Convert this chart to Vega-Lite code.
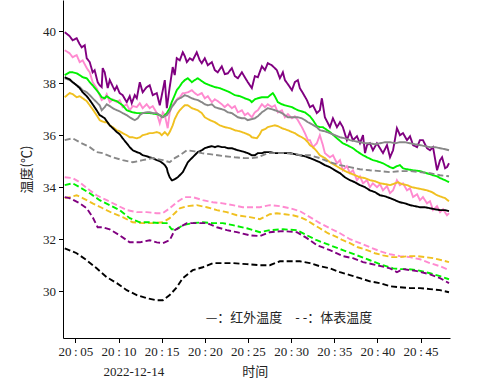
{
"$schema": "https://vega.github.io/schema/vega-lite/v6.json",
"width": 387, "height": 338,
"autosize": "none",
"padding": {"left": 63, "top": 0, "right": 50, "bottom": 42},
"config": {"view": {"stroke": null}, "font": "Liberation Serif"},
"layer": [
{
"data": {"values": [
{"c":"P","k":"I","t":"20:03:46","v":39.96},{"c":"P","k":"I","t":"20:04:20","v":39.81},{"c":"P","k":"I","t":"20:04:41","v":39.65},{"c":"P","k":"I","t":"20:05:09","v":39.73},{"c":"P","k":"I","t":"20:05:30","v":39.5},{"c":"P","k":"I","t":"20:05:44","v":39.38},{"c":"P","k":"I","t":"20:06:05","v":39.46},{"c":"P","k":"I","t":"20:06:19","v":38.96},{"c":"P","k":"I","t":"20:06:40","v":38.81},{"c":"P","k":"I","t":"20:07:00","v":38.42},{"c":"P","k":"I","t":"20:07:14","v":38.5},{"c":"P","k":"I","t":"20:07:35","v":38.04},{"c":"P","k":"I","t":"20:07:49","v":37.92},{"c":"P","k":"I","t":"20:08:03","v":37.85},{"c":"P","k":"I","t":"20:08:10","v":38.58},{"c":"P","k":"I","t":"20:08:24","v":38.42},{"c":"P","k":"I","t":"20:08:45","v":37.81},{"c":"P","k":"I","t":"20:08:59","v":38.12},{"c":"P","k":"I","t":"20:09:20","v":37.88},{"c":"P","k":"I","t":"20:09:34","v":37.73},{"c":"P","k":"I","t":"20:09:48","v":37.88},{"c":"P","k":"I","t":"20:10:08","v":37.62},{"c":"P","k":"I","t":"20:10:29","v":37.54},{"c":"P","k":"I","t":"20:10:57","v":37.27},{"c":"P","k":"I","t":"20:11:18","v":37.5},{"c":"P","k":"I","t":"20:11:32","v":37.23},{"c":"P","k":"I","t":"20:11:53","v":37.54},{"c":"P","k":"I","t":"20:12:07","v":37.42},{"c":"P","k":"I","t":"20:12:28","v":38.04},{"c":"P","k":"I","t":"20:12:48","v":37.65},{"c":"P","k":"I","t":"20:13:16","v":37.85},{"c":"P","k":"I","t":"20:13:37","v":37.92},{"c":"P","k":"I","t":"20:13:58","v":37.54},{"c":"P","k":"I","t":"20:14:26","v":37.62},{"c":"P","k":"I","t":"20:14:47","v":37.15},{"c":"P","k":"I","t":"20:15:08","v":37.73},{"c":"P","k":"I","t":"20:15:22","v":38.12},{"c":"P","k":"I","t":"20:15:36","v":37.04},{"c":"P","k":"I","t":"20:15:56","v":37.85},{"c":"P","k":"I","t":"20:16:17","v":38.62},{"c":"P","k":"I","t":"20:16:31","v":38.31},{"c":"P","k":"I","t":"20:16:45","v":38.96},{"c":"P","k":"I","t":"20:17:06","v":38.88},{"c":"P","k":"I","t":"20:17:27","v":39.19},{"c":"P","k":"I","t":"20:17:41","v":39.04},{"c":"P","k":"I","t":"20:17:55","v":38.81},{"c":"P","k":"I","t":"20:18:16","v":38.96},{"c":"P","k":"I","t":"20:18:36","v":38.88},{"c":"P","k":"I","t":"20:19:04","v":39.19},{"c":"P","k":"I","t":"20:19:25","v":38.88},{"c":"P","k":"I","t":"20:19:39","v":38.77},{"c":"P","k":"I","t":"20:20:00","v":38.96},{"c":"P","k":"I","t":"20:20:21","v":38.69},{"c":"P","k":"I","t":"20:20:49","v":38.81},{"c":"P","k":"I","t":"20:21:10","v":38.5},{"c":"P","k":"I","t":"20:21:30","v":38.42},{"c":"P","k":"I","t":"20:21:58","v":38.65},{"c":"P","k":"I","t":"20:22:19","v":38.35},{"c":"P","k":"I","t":"20:22:40","v":38.38},{"c":"P","k":"I","t":"20:23:08","v":38.58},{"c":"P","k":"I","t":"20:23:29","v":38.27},{"c":"P","k":"I","t":"20:23:50","v":38.19},{"c":"P","k":"I","t":"20:24:18","v":38.42},{"c":"P","k":"I","t":"20:24:38","v":38.23},{"c":"P","k":"I","t":"20:24:59","v":38.04},{"c":"P","k":"I","t":"20:25:27","v":37.81},{"c":"P","k":"I","t":"20:25:48","v":38.27},{"c":"P","k":"I","t":"20:26:09","v":38.23},{"c":"P","k":"I","t":"20:26:37","v":38.65},{"c":"P","k":"I","t":"20:26:58","v":38.5},{"c":"P","k":"I","t":"20:27:18","v":38.77},{"c":"P","k":"I","t":"20:27:46","v":38.69},{"c":"P","k":"I","t":"20:28:07","v":38.58},{"c":"P","k":"I","t":"20:28:21","v":38.5},{"c":"P","k":"I","t":"20:28:42","v":38.19},{"c":"P","k":"I","t":"20:29:03","v":38.42},{"c":"P","k":"I","t":"20:29:17","v":38.12},{"c":"P","k":"I","t":"20:29:38","v":37.96},{"c":"P","k":"I","t":"20:30:06","v":37.73},{"c":"P","k":"I","t":"20:30:26","v":38.04},{"c":"P","k":"I","t":"20:30:47","v":38.12},{"c":"P","k":"I","t":"20:31:01","v":37.81},{"c":"P","k":"I","t":"20:31:22","v":37.62},{"c":"P","k":"I","t":"20:31:50","v":37.35},{"c":"P","k":"I","t":"20:32:11","v":37.08},{"c":"P","k":"I","t":"20:32:32","v":37.15},{"c":"P","k":"I","t":"20:32:59","v":36.85},{"c":"P","k":"I","t":"20:33:20","v":36.96},{"c":"P","k":"I","t":"20:33:34","v":37.42},{"c":"P","k":"I","t":"20:33:55","v":36.69},{"c":"P","k":"I","t":"20:34:30","v":36.31},{"c":"P","k":"I","t":"20:34:51","v":36.65},{"c":"P","k":"I","t":"20:35:19","v":36.31},{"c":"P","k":"I","t":"20:35:40","v":36.5},{"c":"P","k":"I","t":"20:36:00","v":36.31},{"c":"P","k":"I","t":"20:36:28","v":35.81},{"c":"P","k":"I","t":"20:36:49","v":36.12},{"c":"P","k":"I","t":"20:37:10","v":35.81},{"c":"P","k":"I","t":"20:37:38","v":35.96},{"c":"P","k":"I","t":"20:37:59","v":35.69},{"c":"P","k":"I","t":"20:38:20","v":36.0},{"c":"P","k":"I","t":"20:38:34","v":35.31},{"c":"P","k":"I","t":"20:38:48","v":35.62},{"c":"P","k":"I","t":"20:39:08","v":35.69},{"c":"P","k":"I","t":"20:39:29","v":35.42},{"c":"P","k":"I","t":"20:39:57","v":35.69},{"c":"P","k":"I","t":"20:40:18","v":35.5},{"c":"P","k":"I","t":"20:40:39","v":35.31},{"c":"P","k":"I","t":"20:41:07","v":35.62},{"c":"P","k":"I","t":"20:41:28","v":35.15},{"c":"P","k":"I","t":"20:41:49","v":35.42},{"c":"P","k":"I","t":"20:42:16","v":36.27},{"c":"P","k":"I","t":"20:42:37","v":36.0},{"c":"P","k":"I","t":"20:42:58","v":36.08},{"c":"P","k":"I","t":"20:43:26","v":35.81},{"c":"P","k":"I","t":"20:43:47","v":35.96},{"c":"P","k":"I","t":"20:44:08","v":35.62},{"c":"P","k":"I","t":"20:44:36","v":35.54},{"c":"P","k":"I","t":"20:44:56","v":35.81},{"c":"P","k":"I","t":"20:45:17","v":35.81},{"c":"P","k":"I","t":"20:45:45","v":35.5},{"c":"P","k":"I","t":"20:46:06","v":35.42},{"c":"P","k":"I","t":"20:46:27","v":35.54},{"c":"P","k":"I","t":"20:46:55","v":34.65},{"c":"P","k":"I","t":"20:47:16","v":35.04},{"c":"P","k":"I","t":"20:47:30","v":35.15},{"c":"P","k":"I","t":"20:47:51","v":34.73},{"c":"P","k":"I","t":"20:48:04","v":34.77},{"c":"P","k":"I","t":"20:48:18","v":34.92},
{"c":"K","k":"I","t":"20:03:46","v":39.27},{"c":"K","k":"I","t":"20:04:20","v":39.15},{"c":"K","k":"I","t":"20:04:41","v":39.0},{"c":"K","k":"I","t":"20:05:09","v":39.08},{"c":"K","k":"I","t":"20:05:30","v":38.81},{"c":"K","k":"I","t":"20:05:51","v":38.88},{"c":"K","k":"I","t":"20:06:19","v":38.58},{"c":"K","k":"I","t":"20:06:40","v":38.42},{"c":"K","k":"I","t":"20:07:00","v":38.04},{"c":"K","k":"I","t":"20:07:28","v":37.81},{"c":"K","k":"I","t":"20:07:49","v":37.54},{"c":"K","k":"I","t":"20:08:03","v":37.35},{"c":"K","k":"I","t":"20:08:24","v":37.42},{"c":"K","k":"I","t":"20:08:38","v":37.58},{"c":"K","k":"I","t":"20:08:59","v":37.27},{"c":"K","k":"I","t":"20:09:20","v":37.38},{"c":"K","k":"I","t":"20:09:48","v":37.27},{"c":"K","k":"I","t":"20:10:08","v":37.35},{"c":"K","k":"I","t":"20:10:29","v":37.08},{"c":"K","k":"I","t":"20:10:57","v":37.19},{"c":"K","k":"I","t":"20:11:18","v":36.96},{"c":"K","k":"I","t":"20:11:39","v":37.12},{"c":"K","k":"I","t":"20:12:07","v":37.08},{"c":"K","k":"I","t":"20:12:28","v":37.23},{"c":"K","k":"I","t":"20:12:48","v":37.04},{"c":"K","k":"I","t":"20:13:16","v":37.19},{"c":"K","k":"I","t":"20:13:37","v":37.04},{"c":"K","k":"I","t":"20:13:58","v":37.12},{"c":"K","k":"I","t":"20:14:26","v":36.85},{"c":"K","k":"I","t":"20:14:47","v":36.46},{"c":"K","k":"I","t":"20:15:08","v":36.88},{"c":"K","k":"I","t":"20:15:22","v":36.77},{"c":"K","k":"I","t":"20:15:42","v":36.27},{"c":"K","k":"I","t":"20:15:56","v":36.88},{"c":"K","k":"I","t":"20:16:10","v":37.12},{"c":"K","k":"I","t":"20:16:31","v":37.27},{"c":"K","k":"I","t":"20:16:52","v":37.42},{"c":"K","k":"I","t":"20:17:06","v":37.46},{"c":"K","k":"I","t":"20:17:27","v":37.62},{"c":"K","k":"I","t":"20:17:41","v":37.62},{"c":"K","k":"I","t":"20:18:02","v":37.65},{"c":"K","k":"I","t":"20:18:30","v":37.73},{"c":"K","k":"I","t":"20:18:50","v":37.62},{"c":"K","k":"I","t":"20:19:11","v":37.54},{"c":"K","k":"I","t":"20:19:39","v":37.62},{"c":"K","k":"I","t":"20:20:00","v":37.42},{"c":"K","k":"I","t":"20:20:21","v":37.5},{"c":"K","k":"I","t":"20:20:49","v":37.27},{"c":"K","k":"I","t":"20:21:10","v":37.38},{"c":"K","k":"I","t":"20:21:30","v":37.31},{"c":"K","k":"I","t":"20:21:58","v":37.19},{"c":"K","k":"I","t":"20:22:19","v":37.08},{"c":"K","k":"I","t":"20:22:40","v":37.19},{"c":"K","k":"I","t":"20:23:08","v":37.04},{"c":"K","k":"I","t":"20:23:29","v":37.12},{"c":"K","k":"I","t":"20:23:50","v":36.88},{"c":"K","k":"I","t":"20:24:18","v":36.96},{"c":"K","k":"I","t":"20:24:38","v":36.77},{"c":"K","k":"I","t":"20:24:59","v":36.85},{"c":"K","k":"I","t":"20:25:27","v":36.69},{"c":"K","k":"I","t":"20:25:48","v":36.88},{"c":"K","k":"I","t":"20:26:09","v":36.96},{"c":"K","k":"I","t":"20:26:37","v":37.19},{"c":"K","k":"I","t":"20:26:58","v":37.08},{"c":"K","k":"I","t":"20:27:18","v":37.19},{"c":"K","k":"I","t":"20:27:46","v":37.08},{"c":"K","k":"I","t":"20:28:07","v":37.15},{"c":"K","k":"I","t":"20:28:28","v":36.88},{"c":"K","k":"I","t":"20:28:56","v":36.96},{"c":"K","k":"I","t":"20:29:17","v":36.69},{"c":"K","k":"I","t":"20:29:38","v":36.81},{"c":"K","k":"I","t":"20:30:06","v":36.65},{"c":"K","k":"I","t":"20:30:26","v":36.73},{"c":"K","k":"I","t":"20:30:47","v":36.58},{"c":"K","k":"I","t":"20:31:15","v":36.31},{"c":"K","k":"I","t":"20:31:36","v":36.08},{"c":"K","k":"I","t":"20:31:57","v":35.81},{"c":"K","k":"I","t":"20:32:11","v":35.81},{"c":"K","k":"I","t":"20:32:32","v":35.54},{"c":"K","k":"I","t":"20:32:59","v":35.69},{"c":"K","k":"I","t":"20:33:20","v":36.0},{"c":"K","k":"I","t":"20:33:41","v":35.62},{"c":"K","k":"I","t":"20:33:55","v":35.31},{"c":"K","k":"I","t":"20:34:30","v":35.15},{"c":"K","k":"I","t":"20:34:51","v":35.23},{"c":"K","k":"I","t":"20:35:19","v":34.92},{"c":"K","k":"I","t":"20:35:40","v":35.04},{"c":"K","k":"I","t":"20:36:00","v":34.65},{"c":"K","k":"I","t":"20:36:28","v":34.81},{"c":"K","k":"I","t":"20:36:49","v":34.54},{"c":"K","k":"I","t":"20:37:10","v":34.65},{"c":"K","k":"I","t":"20:37:38","v":34.27},{"c":"K","k":"I","t":"20:37:59","v":34.42},{"c":"K","k":"I","t":"20:38:20","v":34.15},{"c":"K","k":"I","t":"20:38:48","v":34.27},{"c":"K","k":"I","t":"20:39:08","v":34.0},{"c":"K","k":"I","t":"20:39:29","v":34.15},{"c":"K","k":"I","t":"20:39:57","v":34.0},{"c":"K","k":"I","t":"20:40:18","v":34.12},{"c":"K","k":"I","t":"20:40:39","v":33.88},{"c":"K","k":"I","t":"20:41:07","v":34.04},{"c":"K","k":"I","t":"20:41:28","v":33.77},{"c":"K","k":"I","t":"20:41:49","v":33.88},{"c":"K","k":"I","t":"20:42:16","v":34.27},{"c":"K","k":"I","t":"20:42:37","v":34.08},{"c":"K","k":"I","t":"20:42:58","v":34.15},{"c":"K","k":"I","t":"20:43:26","v":33.88},{"c":"K","k":"I","t":"20:43:47","v":33.96},{"c":"K","k":"I","t":"20:44:08","v":33.62},{"c":"K","k":"I","t":"20:44:36","v":33.73},{"c":"K","k":"I","t":"20:44:56","v":33.5},{"c":"K","k":"I","t":"20:45:17","v":33.62},{"c":"K","k":"I","t":"20:45:45","v":33.38},{"c":"K","k":"I","t":"20:46:06","v":33.46},{"c":"K","k":"I","t":"20:46:27","v":33.12},{"c":"K","k":"I","t":"20:46:55","v":33.27},{"c":"K","k":"I","t":"20:47:16","v":33.04},{"c":"K","k":"I","t":"20:47:37","v":33.15},{"c":"K","k":"I","t":"20:48:04","v":32.92},{"c":"K","k":"I","t":"20:48:18","v":33.0},
{"c":"G","k":"I","t":"20:03:46","v":38.31},{"c":"G","k":"I","t":"20:04:20","v":38.42},{"c":"G","k":"I","t":"20:04:41","v":38.42},{"c":"G","k":"I","t":"20:05:09","v":38.38},{"c":"G","k":"I","t":"20:05:30","v":38.31},{"c":"G","k":"I","t":"20:05:51","v":38.23},{"c":"G","k":"I","t":"20:06:19","v":38.19},{"c":"G","k":"I","t":"20:06:40","v":38.04},{"c":"G","k":"I","t":"20:07:00","v":37.92},{"c":"G","k":"I","t":"20:07:28","v":37.73},{"c":"G","k":"I","t":"20:07:49","v":37.58},{"c":"G","k":"I","t":"20:08:03","v":37.46},{"c":"G","k":"I","t":"20:08:24","v":37.42},{"c":"G","k":"I","t":"20:08:38","v":37.5},{"c":"G","k":"I","t":"20:08:59","v":37.42},{"c":"G","k":"I","t":"20:09:20","v":37.35},{"c":"G","k":"I","t":"20:09:48","v":37.31},{"c":"G","k":"I","t":"20:10:08","v":37.23},{"c":"G","k":"I","t":"20:10:29","v":37.15},{"c":"G","k":"I","t":"20:10:57","v":36.96},{"c":"G","k":"I","t":"20:11:18","v":36.92},{"c":"G","k":"I","t":"20:11:39","v":36.88},{"c":"G","k":"I","t":"20:12:07","v":36.85},{"c":"G","k":"I","t":"20:12:48","v":36.85},{"c":"G","k":"I","t":"20:13:37","v":36.85},{"c":"G","k":"I","t":"20:14:26","v":36.81},{"c":"G","k":"I","t":"20:14:47","v":36.77},{"c":"G","k":"I","t":"20:15:08","v":36.69},{"c":"G","k":"I","t":"20:15:36","v":36.85},{"c":"G","k":"I","t":"20:15:56","v":37.04},{"c":"G","k":"I","t":"20:16:10","v":37.27},{"c":"G","k":"I","t":"20:16:31","v":37.54},{"c":"G","k":"I","t":"20:16:45","v":37.73},{"c":"G","k":"I","t":"20:17:06","v":37.88},{"c":"G","k":"I","t":"20:17:20","v":38.0},{"c":"G","k":"I","t":"20:17:41","v":38.12},{"c":"G","k":"I","t":"20:18:02","v":38.19},{"c":"G","k":"I","t":"20:18:30","v":38.04},{"c":"G","k":"I","t":"20:18:50","v":38.12},{"c":"G","k":"I","t":"20:19:11","v":38.19},{"c":"G","k":"I","t":"20:19:39","v":38.08},{"c":"G","k":"I","t":"20:20:00","v":38.0},{"c":"G","k":"I","t":"20:20:35","v":37.92},{"c":"G","k":"I","t":"20:21:10","v":37.85},{"c":"G","k":"I","t":"20:21:44","v":37.81},{"c":"G","k":"I","t":"20:22:19","v":37.73},{"c":"G","k":"I","t":"20:22:54","v":37.65},{"c":"G","k":"I","t":"20:23:29","v":37.54},{"c":"G","k":"I","t":"20:24:04","v":37.5},{"c":"G","k":"I","t":"20:24:38","v":37.42},{"c":"G","k":"I","t":"20:25:13","v":37.35},{"c":"G","k":"I","t":"20:25:27","v":37.27},{"c":"G","k":"I","t":"20:25:48","v":37.38},{"c":"G","k":"I","t":"20:26:09","v":37.42},{"c":"G","k":"I","t":"20:26:37","v":37.46},{"c":"G","k":"I","t":"20:27:18","v":37.46},{"c":"G","k":"I","t":"20:27:53","v":37.62},{"c":"G","k":"I","t":"20:28:07","v":37.5},{"c":"G","k":"I","t":"20:28:28","v":37.27},{"c":"G","k":"I","t":"20:28:56","v":37.19},{"c":"G","k":"I","t":"20:29:17","v":37.15},{"c":"G","k":"I","t":"20:30:06","v":37.08},{"c":"G","k":"I","t":"20:30:47","v":36.96},{"c":"G","k":"I","t":"20:31:36","v":36.88},{"c":"G","k":"I","t":"20:32:11","v":36.73},{"c":"G","k":"I","t":"20:32:32","v":36.58},{"c":"G","k":"I","t":"20:32:59","v":36.35},{"c":"G","k":"I","t":"20:33:20","v":36.31},{"c":"G","k":"I","t":"20:33:41","v":36.31},{"c":"G","k":"I","t":"20:34:30","v":36.12},{"c":"G","k":"I","t":"20:35:19","v":35.88},{"c":"G","k":"I","t":"20:36:00","v":35.69},{"c":"G","k":"I","t":"20:36:28","v":35.62},{"c":"G","k":"I","t":"20:37:10","v":35.5},{"c":"G","k":"I","t":"20:37:38","v":35.38},{"c":"G","k":"I","t":"20:38:20","v":35.23},{"c":"G","k":"I","t":"20:38:48","v":35.15},{"c":"G","k":"I","t":"20:39:29","v":35.04},{"c":"G","k":"I","t":"20:39:57","v":35.0},{"c":"G","k":"I","t":"20:40:39","v":34.92},{"c":"G","k":"I","t":"20:41:28","v":34.77},{"c":"G","k":"I","t":"20:41:49","v":34.73},{"c":"G","k":"I","t":"20:42:16","v":34.81},{"c":"G","k":"I","t":"20:42:37","v":34.85},{"c":"G","k":"I","t":"20:42:58","v":34.73},{"c":"G","k":"I","t":"20:43:26","v":34.69},{"c":"G","k":"I","t":"20:44:08","v":34.65},{"c":"G","k":"I","t":"20:44:56","v":34.62},{"c":"G","k":"I","t":"20:45:17","v":34.58},{"c":"G","k":"I","t":"20:46:06","v":34.5},{"c":"G","k":"I","t":"20:46:27","v":34.46},{"c":"G","k":"I","t":"20:46:55","v":34.42},{"c":"G","k":"I","t":"20:47:16","v":34.35},{"c":"G","k":"I","t":"20:47:51","v":34.27},{"c":"G","k":"I","t":"20:48:18","v":34.19},
{"c":"Y","k":"I","t":"20:03:46","v":38.19},{"c":"Y","k":"I","t":"20:04:20","v":38.12},{"c":"Y","k":"I","t":"20:04:41","v":38.04},{"c":"Y","k":"I","t":"20:05:09","v":37.92},{"c":"Y","k":"I","t":"20:05:30","v":37.85},{"c":"Y","k":"I","t":"20:05:51","v":37.73},{"c":"Y","k":"I","t":"20:06:19","v":37.65},{"c":"Y","k":"I","t":"20:06:40","v":37.54},{"c":"Y","k":"I","t":"20:07:00","v":37.42},{"c":"Y","k":"I","t":"20:07:28","v":37.27},{"c":"Y","k":"I","t":"20:07:49","v":37.15},{"c":"Y","k":"I","t":"20:08:03","v":36.96},{"c":"Y","k":"I","t":"20:08:24","v":37.08},{"c":"Y","k":"I","t":"20:08:38","v":37.19},{"c":"Y","k":"I","t":"20:08:59","v":37.12},{"c":"Y","k":"I","t":"20:09:20","v":37.04},{"c":"Y","k":"I","t":"20:09:48","v":36.96},{"c":"Y","k":"I","t":"20:10:08","v":36.92},{"c":"Y","k":"I","t":"20:10:29","v":36.85},{"c":"Y","k":"I","t":"20:10:57","v":36.77},{"c":"Y","k":"I","t":"20:11:18","v":36.69},{"c":"Y","k":"I","t":"20:11:39","v":36.62},{"c":"Y","k":"I","t":"20:11:53","v":36.58},{"c":"Y","k":"I","t":"20:12:14","v":36.65},{"c":"Y","k":"I","t":"20:12:28","v":36.77},{"c":"Y","k":"I","t":"20:12:48","v":36.85},{"c":"Y","k":"I","t":"20:13:16","v":36.88},{"c":"Y","k":"I","t":"20:13:37","v":36.88},{"c":"Y","k":"I","t":"20:13:58","v":36.85},{"c":"Y","k":"I","t":"20:14:26","v":36.85},{"c":"Y","k":"I","t":"20:14:47","v":36.77},{"c":"Y","k":"I","t":"20:15:01","v":36.69},{"c":"Y","k":"I","t":"20:15:22","v":36.73},{"c":"Y","k":"I","t":"20:15:36","v":36.77},{"c":"Y","k":"I","t":"20:15:56","v":36.92},{"c":"Y","k":"I","t":"20:16:10","v":37.08},{"c":"Y","k":"I","t":"20:16:31","v":37.23},{"c":"Y","k":"I","t":"20:16:45","v":37.35},{"c":"Y","k":"I","t":"20:17:06","v":37.42},{"c":"Y","k":"I","t":"20:17:20","v":37.46},{"c":"Y","k":"I","t":"20:17:41","v":37.54},{"c":"Y","k":"I","t":"20:18:02","v":37.5},{"c":"Y","k":"I","t":"20:18:30","v":37.42},{"c":"Y","k":"I","t":"20:18:50","v":37.38},{"c":"Y","k":"I","t":"20:19:11","v":37.35},{"c":"Y","k":"I","t":"20:19:39","v":37.27},{"c":"Y","k":"I","t":"20:20:00","v":37.19},{"c":"Y","k":"I","t":"20:20:21","v":37.15},{"c":"Y","k":"I","t":"20:20:49","v":37.19},{"c":"Y","k":"I","t":"20:21:10","v":37.08},{"c":"Y","k":"I","t":"20:21:30","v":37.04},{"c":"Y","k":"I","t":"20:21:58","v":37.0},{"c":"Y","k":"I","t":"20:22:19","v":36.96},{"c":"Y","k":"I","t":"20:22:40","v":36.88},{"c":"Y","k":"I","t":"20:23:08","v":36.85},{"c":"Y","k":"I","t":"20:23:29","v":36.77},{"c":"Y","k":"I","t":"20:23:50","v":36.69},{"c":"Y","k":"I","t":"20:24:18","v":36.65},{"c":"Y","k":"I","t":"20:24:38","v":36.65},{"c":"Y","k":"I","t":"20:24:59","v":36.58},{"c":"Y","k":"I","t":"20:25:27","v":36.62},{"c":"Y","k":"I","t":"20:25:48","v":36.65},{"c":"Y","k":"I","t":"20:26:09","v":36.73},{"c":"Y","k":"I","t":"20:26:37","v":36.88},{"c":"Y","k":"I","t":"20:26:58","v":36.96},{"c":"Y","k":"I","t":"20:27:18","v":37.04},{"c":"Y","k":"I","t":"20:27:46","v":37.0},{"c":"Y","k":"I","t":"20:28:07","v":36.96},{"c":"Y","k":"I","t":"20:28:28","v":36.92},{"c":"Y","k":"I","t":"20:28:56","v":36.85},{"c":"Y","k":"I","t":"20:29:17","v":36.77},{"c":"Y","k":"I","t":"20:29:38","v":36.69},{"c":"Y","k":"I","t":"20:30:06","v":36.69},{"c":"Y","k":"I","t":"20:30:47","v":36.69},{"c":"Y","k":"I","t":"20:31:15","v":36.65},{"c":"Y","k":"I","t":"20:31:36","v":36.58},{"c":"Y","k":"I","t":"20:31:57","v":36.5},{"c":"Y","k":"I","t":"20:32:25","v":36.42},{"c":"Y","k":"I","t":"20:32:59","v":36.31},{"c":"Y","k":"I","t":"20:33:20","v":36.19},{"c":"Y","k":"I","t":"20:33:55","v":36.15},{"c":"Y","k":"I","t":"20:34:30","v":36.08},{"c":"Y","k":"I","t":"20:35:05","v":36.0},{"c":"Y","k":"I","t":"20:35:40","v":35.92},{"c":"Y","k":"I","t":"20:36:15","v":35.88},{"c":"Y","k":"I","t":"20:36:49","v":35.81},{"c":"Y","k":"I","t":"20:37:24","v":35.77},{"c":"Y","k":"I","t":"20:37:59","v":35.73},{"c":"Y","k":"I","t":"20:38:34","v":35.69},{"c":"Y","k":"I","t":"20:39:08","v":35.69},{"c":"Y","k":"I","t":"20:39:43","v":35.65},{"c":"Y","k":"I","t":"20:40:18","v":35.69},{"c":"Y","k":"I","t":"20:40:53","v":35.73},{"c":"Y","k":"I","t":"20:41:28","v":35.73},{"c":"Y","k":"I","t":"20:42:03","v":35.69},{"c":"Y","k":"I","t":"20:42:37","v":35.73},{"c":"Y","k":"I","t":"20:43:12","v":35.73},{"c":"Y","k":"I","t":"20:43:47","v":35.69},{"c":"Y","k":"I","t":"20:44:22","v":35.65},{"c":"Y","k":"I","t":"20:44:56","v":35.62},{"c":"Y","k":"I","t":"20:45:31","v":35.58},{"c":"Y","k":"I","t":"20:46:06","v":35.54},{"c":"Y","k":"I","t":"20:46:41","v":35.54},{"c":"Y","k":"I","t":"20:47:16","v":35.5},{"c":"Y","k":"I","t":"20:47:51","v":35.46},{"c":"Y","k":"I","t":"20:48:18","v":35.42},
{"c":"O","k":"I","t":"20:03:46","v":37.46},{"c":"O","k":"I","t":"20:04:20","v":37.62},{"c":"O","k":"I","t":"20:04:41","v":37.58},{"c":"O","k":"I","t":"20:05:09","v":37.46},{"c":"O","k":"I","t":"20:05:30","v":37.5},{"c":"O","k":"I","t":"20:05:51","v":37.42},{"c":"O","k":"I","t":"20:06:19","v":37.31},{"c":"O","k":"I","t":"20:06:40","v":37.15},{"c":"O","k":"I","t":"20:07:00","v":37.0},{"c":"O","k":"I","t":"20:07:28","v":36.77},{"c":"O","k":"I","t":"20:07:49","v":36.58},{"c":"O","k":"I","t":"20:08:03","v":36.54},{"c":"O","k":"I","t":"20:08:24","v":36.5},{"c":"O","k":"I","t":"20:08:38","v":36.5},{"c":"O","k":"I","t":"20:08:59","v":36.38},{"c":"O","k":"I","t":"20:09:20","v":36.31},{"c":"O","k":"I","t":"20:09:48","v":36.19},{"c":"O","k":"I","t":"20:10:08","v":36.15},{"c":"O","k":"I","t":"20:10:29","v":36.08},{"c":"O","k":"I","t":"20:10:57","v":36.0},{"c":"O","k":"I","t":"20:11:18","v":35.92},{"c":"O","k":"I","t":"20:11:39","v":35.92},{"c":"O","k":"I","t":"20:12:07","v":35.88},{"c":"O","k":"I","t":"20:12:28","v":35.92},{"c":"O","k":"I","t":"20:12:48","v":36.0},{"c":"O","k":"I","t":"20:13:16","v":36.04},{"c":"O","k":"I","t":"20:13:37","v":36.08},{"c":"O","k":"I","t":"20:13:58","v":36.08},{"c":"O","k":"I","t":"20:14:26","v":36.12},{"c":"O","k":"I","t":"20:14:47","v":36.08},{"c":"O","k":"I","t":"20:15:01","v":36.0},{"c":"O","k":"I","t":"20:15:22","v":36.12},{"c":"O","k":"I","t":"20:15:42","v":36.0},{"c":"O","k":"I","t":"20:15:56","v":36.12},{"c":"O","k":"I","t":"20:16:17","v":36.38},{"c":"O","k":"I","t":"20:16:31","v":36.62},{"c":"O","k":"I","t":"20:16:52","v":36.85},{"c":"O","k":"I","t":"20:17:06","v":36.96},{"c":"O","k":"I","t":"20:17:27","v":37.08},{"c":"O","k":"I","t":"20:17:41","v":37.15},{"c":"O","k":"I","t":"20:18:02","v":37.15},{"c":"O","k":"I","t":"20:18:30","v":37.04},{"c":"O","k":"I","t":"20:18:50","v":37.0},{"c":"O","k":"I","t":"20:19:11","v":36.96},{"c":"O","k":"I","t":"20:19:39","v":36.85},{"c":"O","k":"I","t":"20:20:00","v":36.69},{"c":"O","k":"I","t":"20:20:35","v":36.58},{"c":"O","k":"I","t":"20:21:10","v":36.5},{"c":"O","k":"I","t":"20:21:44","v":36.38},{"c":"O","k":"I","t":"20:22:19","v":36.31},{"c":"O","k":"I","t":"20:22:54","v":36.27},{"c":"O","k":"I","t":"20:23:29","v":36.19},{"c":"O","k":"I","t":"20:24:04","v":36.15},{"c":"O","k":"I","t":"20:24:38","v":36.08},{"c":"O","k":"I","t":"20:25:13","v":36.0},{"c":"O","k":"I","t":"20:25:27","v":35.92},{"c":"O","k":"I","t":"20:26:02","v":35.88},{"c":"O","k":"I","t":"20:26:23","v":36.04},{"c":"O","k":"I","t":"20:26:37","v":36.19},{"c":"O","k":"I","t":"20:26:58","v":36.23},{"c":"O","k":"I","t":"20:27:18","v":36.31},{"c":"O","k":"I","t":"20:27:46","v":36.35},{"c":"O","k":"I","t":"20:28:07","v":36.38},{"c":"O","k":"I","t":"20:28:28","v":36.35},{"c":"O","k":"I","t":"20:28:56","v":36.27},{"c":"O","k":"I","t":"20:29:17","v":36.23},{"c":"O","k":"I","t":"20:29:38","v":36.19},{"c":"O","k":"I","t":"20:30:06","v":36.12},{"c":"O","k":"I","t":"20:30:26","v":36.08},{"c":"O","k":"I","t":"20:30:47","v":36.0},{"c":"O","k":"I","t":"20:31:15","v":35.92},{"c":"O","k":"I","t":"20:31:36","v":35.85},{"c":"O","k":"I","t":"20:31:57","v":35.73},{"c":"O","k":"I","t":"20:32:11","v":35.62},{"c":"O","k":"I","t":"20:32:32","v":35.54},{"c":"O","k":"I","t":"20:32:59","v":35.38},{"c":"O","k":"I","t":"20:33:20","v":35.23},{"c":"O","k":"I","t":"20:33:55","v":35.12},{"c":"O","k":"I","t":"20:34:30","v":34.96},{"c":"O","k":"I","t":"20:35:05","v":34.85},{"c":"O","k":"I","t":"20:35:40","v":34.73},{"c":"O","k":"I","t":"20:36:15","v":34.62},{"c":"O","k":"I","t":"20:36:49","v":34.54},{"c":"O","k":"I","t":"20:37:24","v":34.46},{"c":"O","k":"I","t":"20:37:59","v":34.38},{"c":"O","k":"I","t":"20:38:34","v":34.35},{"c":"O","k":"I","t":"20:39:08","v":34.27},{"c":"O","k":"I","t":"20:39:43","v":34.23},{"c":"O","k":"I","t":"20:40:18","v":34.15},{"c":"O","k":"I","t":"20:40:53","v":34.12},{"c":"O","k":"I","t":"20:41:28","v":34.08},{"c":"O","k":"I","t":"20:41:49","v":34.12},{"c":"O","k":"I","t":"20:42:23","v":34.19},{"c":"O","k":"I","t":"20:42:51","v":34.12},{"c":"O","k":"I","t":"20:43:26","v":34.08},{"c":"O","k":"I","t":"20:44:01","v":34.0},{"c":"O","k":"I","t":"20:44:36","v":33.96},{"c":"O","k":"I","t":"20:45:11","v":33.92},{"c":"O","k":"I","t":"20:45:45","v":33.88},{"c":"O","k":"I","t":"20:46:20","v":33.81},{"c":"O","k":"I","t":"20:46:55","v":33.69},{"c":"O","k":"I","t":"20:47:30","v":33.62},{"c":"O","k":"I","t":"20:47:51","v":33.58},{"c":"O","k":"I","t":"20:48:18","v":33.46},
{"c":"B","k":"I","t":"20:03:46","v":38.23},{"c":"B","k":"I","t":"20:04:20","v":38.15},{"c":"B","k":"I","t":"20:04:41","v":38.04},{"c":"B","k":"I","t":"20:05:09","v":37.92},{"c":"B","k":"I","t":"20:05:30","v":37.81},{"c":"B","k":"I","t":"20:05:51","v":37.65},{"c":"B","k":"I","t":"20:06:19","v":37.5},{"c":"B","k":"I","t":"20:06:40","v":37.35},{"c":"B","k":"I","t":"20:07:00","v":37.19},{"c":"B","k":"I","t":"20:07:28","v":36.96},{"c":"B","k":"I","t":"20:07:49","v":36.77},{"c":"B","k":"I","t":"20:08:03","v":36.73},{"c":"B","k":"I","t":"20:08:24","v":36.65},{"c":"B","k":"I","t":"20:08:38","v":36.54},{"c":"B","k":"I","t":"20:08:59","v":36.38},{"c":"B","k":"I","t":"20:09:20","v":36.27},{"c":"B","k":"I","t":"20:09:48","v":36.12},{"c":"B","k":"I","t":"20:10:08","v":36.04},{"c":"B","k":"I","t":"20:10:29","v":35.88},{"c":"B","k":"I","t":"20:10:57","v":35.69},{"c":"B","k":"I","t":"20:11:18","v":35.54},{"c":"B","k":"I","t":"20:11:39","v":35.42},{"c":"B","k":"I","t":"20:12:07","v":35.35},{"c":"B","k":"I","t":"20:12:28","v":35.31},{"c":"B","k":"I","t":"20:12:48","v":35.23},{"c":"B","k":"I","t":"20:13:16","v":35.19},{"c":"B","k":"I","t":"20:13:37","v":35.15},{"c":"B","k":"I","t":"20:13:58","v":35.12},{"c":"B","k":"I","t":"20:14:26","v":35.04},{"c":"B","k":"I","t":"20:14:47","v":35.0},{"c":"B","k":"I","t":"20:15:08","v":34.92},{"c":"B","k":"I","t":"20:15:22","v":34.85},{"c":"B","k":"I","t":"20:15:36","v":34.73},{"c":"B","k":"I","t":"20:15:42","v":34.58},{"c":"B","k":"I","t":"20:15:56","v":34.38},{"c":"B","k":"I","t":"20:16:10","v":34.27},{"c":"B","k":"I","t":"20:16:17","v":34.27},{"c":"B","k":"I","t":"20:16:31","v":34.31},{"c":"B","k":"I","t":"20:16:52","v":34.38},{"c":"B","k":"I","t":"20:17:06","v":34.46},{"c":"B","k":"I","t":"20:17:27","v":34.58},{"c":"B","k":"I","t":"20:17:41","v":34.73},{"c":"B","k":"I","t":"20:18:02","v":34.96},{"c":"B","k":"I","t":"20:18:30","v":35.12},{"c":"B","k":"I","t":"20:18:50","v":35.23},{"c":"B","k":"I","t":"20:19:11","v":35.35},{"c":"B","k":"I","t":"20:19:39","v":35.42},{"c":"B","k":"I","t":"20:20:00","v":35.5},{"c":"B","k":"I","t":"20:20:21","v":35.54},{"c":"B","k":"I","t":"20:20:49","v":35.58},{"c":"B","k":"I","t":"20:21:10","v":35.54},{"c":"B","k":"I","t":"20:21:30","v":35.58},{"c":"B","k":"I","t":"20:21:58","v":35.54},{"c":"B","k":"I","t":"20:22:19","v":35.54},{"c":"B","k":"I","t":"20:22:40","v":35.5},{"c":"B","k":"I","t":"20:23:08","v":35.5},{"c":"B","k":"I","t":"20:23:29","v":35.46},{"c":"B","k":"I","t":"20:23:50","v":35.42},{"c":"B","k":"I","t":"20:24:18","v":35.38},{"c":"B","k":"I","t":"20:24:38","v":35.35},{"c":"B","k":"I","t":"20:24:59","v":35.31},{"c":"B","k":"I","t":"20:25:27","v":35.23},{"c":"B","k":"I","t":"20:25:48","v":35.23},{"c":"B","k":"I","t":"20:26:09","v":35.31},{"c":"B","k":"I","t":"20:26:37","v":35.31},{"c":"B","k":"I","t":"20:26:58","v":35.35},{"c":"B","k":"I","t":"20:27:32","v":35.35},{"c":"B","k":"I","t":"20:28:07","v":35.31},{"c":"B","k":"I","t":"20:28:42","v":35.31},{"c":"B","k":"I","t":"20:29:17","v":35.31},{"c":"B","k":"I","t":"20:29:52","v":35.31},{"c":"B","k":"I","t":"20:30:26","v":35.27},{"c":"B","k":"I","t":"20:31:01","v":35.23},{"c":"B","k":"I","t":"20:31:36","v":35.19},{"c":"B","k":"I","t":"20:32:11","v":35.12},{"c":"B","k":"I","t":"20:32:46","v":35.04},{"c":"B","k":"I","t":"20:33:20","v":34.96},{"c":"B","k":"I","t":"20:33:55","v":34.85},{"c":"B","k":"I","t":"20:34:30","v":34.77},{"c":"B","k":"I","t":"20:35:05","v":34.65},{"c":"B","k":"I","t":"20:35:40","v":34.54},{"c":"B","k":"I","t":"20:36:15","v":34.38},{"c":"B","k":"I","t":"20:36:49","v":34.27},{"c":"B","k":"I","t":"20:37:24","v":34.19},{"c":"B","k":"I","t":"20:37:59","v":34.08},{"c":"B","k":"I","t":"20:38:34","v":34.0},{"c":"B","k":"I","t":"20:39:08","v":33.88},{"c":"B","k":"I","t":"20:39:43","v":33.81},{"c":"B","k":"I","t":"20:40:18","v":33.69},{"c":"B","k":"I","t":"20:40:53","v":33.65},{"c":"B","k":"I","t":"20:41:28","v":33.58},{"c":"B","k":"I","t":"20:42:03","v":33.5},{"c":"B","k":"I","t":"20:42:37","v":33.42},{"c":"B","k":"I","t":"20:43:12","v":33.38},{"c":"B","k":"I","t":"20:43:47","v":33.31},{"c":"B","k":"I","t":"20:44:22","v":33.27},{"c":"B","k":"I","t":"20:44:56","v":33.23},{"c":"B","k":"I","t":"20:45:31","v":33.23},{"c":"B","k":"I","t":"20:46:06","v":33.19},{"c":"B","k":"I","t":"20:46:41","v":33.15},{"c":"B","k":"I","t":"20:47:16","v":33.12},{"c":"B","k":"I","t":"20:47:51","v":33.12},{"c":"B","k":"I","t":"20:48:18","v":33.08},
{"c":"Y","k":"S","t":"20:03:46","v":35.81},{"c":"Y","k":"S","t":"20:04:41","v":35.88},{"c":"Y","k":"S","t":"20:05:30","v":35.73},{"c":"Y","k":"S","t":"20:06:40","v":35.54},{"c":"Y","k":"S","t":"20:07:28","v":35.35},{"c":"Y","k":"S","t":"20:08:10","v":35.31},{"c":"Y","k":"S","t":"20:09:20","v":35.15},{"c":"Y","k":"S","t":"20:10:29","v":35.04},{"c":"Y","k":"S","t":"20:11:39","v":34.96},{"c":"Y","k":"S","t":"20:12:48","v":35.04},{"c":"Y","k":"S","t":"20:13:58","v":35.12},{"c":"Y","k":"S","t":"20:15:08","v":35.04},{"c":"Y","k":"S","t":"20:15:56","v":34.96},{"c":"Y","k":"S","t":"20:16:31","v":35.12},{"c":"Y","k":"S","t":"20:17:06","v":35.23},{"c":"Y","k":"S","t":"20:17:55","v":35.42},{"c":"Y","k":"S","t":"20:18:50","v":35.38},{"c":"Y","k":"S","t":"20:19:39","v":35.31},{"c":"Y","k":"S","t":"20:20:35","v":35.27},{"c":"Y","k":"S","t":"20:21:30","v":35.23},{"c":"Y","k":"S","t":"20:22:19","v":35.19},{"c":"Y","k":"S","t":"20:23:29","v":35.15},{"c":"Y","k":"S","t":"20:24:38","v":35.12},{"c":"Y","k":"S","t":"20:25:27","v":35.12},{"c":"Y","k":"S","t":"20:26:09","v":35.15},{"c":"Y","k":"S","t":"20:27:18","v":35.31},{"c":"Y","k":"S","t":"20:28:07","v":35.31},{"c":"Y","k":"S","t":"20:29:17","v":35.31},{"c":"Y","k":"S","t":"20:30:26","v":35.27},{"c":"Y","k":"S","t":"20:31:15","v":35.23},{"c":"Y","k":"S","t":"20:32:11","v":35.23},{"c":"Y","k":"S","t":"20:33:20","v":35.12},{"c":"Y","k":"S","t":"20:34:30","v":34.96},{"c":"Y","k":"S","t":"20:35:40","v":34.85},{"c":"Y","k":"S","t":"20:36:49","v":34.77},{"c":"Y","k":"S","t":"20:37:59","v":34.69},{"c":"Y","k":"S","t":"20:39:08","v":34.65},{"c":"Y","k":"S","t":"20:40:18","v":34.62},{"c":"Y","k":"S","t":"20:41:28","v":34.58},{"c":"Y","k":"S","t":"20:42:37","v":34.62},{"c":"Y","k":"S","t":"20:43:47","v":34.62},{"c":"Y","k":"S","t":"20:44:56","v":34.58},{"c":"Y","k":"S","t":"20:46:06","v":34.54},{"c":"Y","k":"S","t":"20:47:16","v":34.46},{"c":"Y","k":"S","t":"20:48:18","v":34.42},
{"c":"K","k":"S","t":"20:03:46","v":34.38},{"c":"K","k":"S","t":"20:04:41","v":34.35},{"c":"K","k":"S","t":"20:05:30","v":34.19},{"c":"K","k":"S","t":"20:06:40","v":33.88},{"c":"K","k":"S","t":"20:07:28","v":33.69},{"c":"K","k":"S","t":"20:08:38","v":33.5},{"c":"K","k":"S","t":"20:09:48","v":33.31},{"c":"K","k":"S","t":"20:10:57","v":33.12},{"c":"K","k":"S","t":"20:12:07","v":33.04},{"c":"K","k":"S","t":"20:13:16","v":33.04},{"c":"K","k":"S","t":"20:14:26","v":33.0},{"c":"K","k":"S","t":"20:15:08","v":33.0},{"c":"K","k":"S","t":"20:15:56","v":33.19},{"c":"K","k":"S","t":"20:16:45","v":33.42},{"c":"K","k":"S","t":"20:17:41","v":33.62},{"c":"K","k":"S","t":"20:18:36","v":33.62},{"c":"K","k":"S","t":"20:19:46","v":33.5},{"c":"K","k":"S","t":"20:20:56","v":33.42},{"c":"K","k":"S","t":"20:22:05","v":33.38},{"c":"K","k":"S","t":"20:23:15","v":33.31},{"c":"K","k":"S","t":"20:24:24","v":33.23},{"c":"K","k":"S","t":"20:25:13","v":33.23},{"c":"K","k":"S","t":"20:26:23","v":33.23},{"c":"K","k":"S","t":"20:27:32","v":33.31},{"c":"K","k":"S","t":"20:28:42","v":33.27},{"c":"K","k":"S","t":"20:29:52","v":33.19},{"c":"K","k":"S","t":"20:31:01","v":33.08},{"c":"K","k":"S","t":"20:32:11","v":32.85},{"c":"K","k":"S","t":"20:33:20","v":32.62},{"c":"K","k":"S","t":"20:34:30","v":32.42},{"c":"K","k":"S","t":"20:35:40","v":32.23},{"c":"K","k":"S","t":"20:36:49","v":32.0},{"c":"K","k":"S","t":"20:37:59","v":31.85},{"c":"K","k":"S","t":"20:39:08","v":31.69},{"c":"K","k":"S","t":"20:40:18","v":31.54},{"c":"K","k":"S","t":"20:41:28","v":31.42},{"c":"K","k":"S","t":"20:42:37","v":31.35},{"c":"K","k":"S","t":"20:43:47","v":31.31},{"c":"K","k":"S","t":"20:44:56","v":31.23},{"c":"K","k":"S","t":"20:46:06","v":31.08},{"c":"K","k":"S","t":"20:47:16","v":30.96},{"c":"K","k":"S","t":"20:48:18","v":30.81},
{"c":"O","k":"S","t":"20:03:46","v":33.58},{"c":"O","k":"S","t":"20:04:20","v":33.62},{"c":"O","k":"S","t":"20:05:09","v":33.69},{"c":"O","k":"S","t":"20:05:51","v":33.58},{"c":"O","k":"S","t":"20:07:00","v":33.38},{"c":"O","k":"S","t":"20:08:10","v":33.19},{"c":"O","k":"S","t":"20:09:20","v":33.0},{"c":"O","k":"S","t":"20:10:29","v":32.85},{"c":"O","k":"S","t":"20:11:39","v":32.65},{"c":"O","k":"S","t":"20:12:48","v":32.62},{"c":"O","k":"S","t":"20:13:58","v":32.62},{"c":"O","k":"S","t":"20:15:08","v":32.65},{"c":"O","k":"S","t":"20:15:56","v":32.81},{"c":"O","k":"S","t":"20:16:31","v":33.0},{"c":"O","k":"S","t":"20:17:06","v":33.19},{"c":"O","k":"S","t":"20:17:55","v":33.27},{"c":"O","k":"S","t":"20:19:04","v":33.31},{"c":"O","k":"S","t":"20:20:14","v":33.23},{"c":"O","k":"S","t":"20:21:24","v":33.12},{"c":"O","k":"S","t":"20:22:33","v":33.04},{"c":"O","k":"S","t":"20:23:43","v":32.92},{"c":"O","k":"S","t":"20:25:13","v":32.85},{"c":"O","k":"S","t":"20:26:23","v":32.77},{"c":"O","k":"S","t":"20:27:32","v":32.96},{"c":"O","k":"S","t":"20:28:21","v":33.0},{"c":"O","k":"S","t":"20:29:17","v":32.96},{"c":"O","k":"S","t":"20:30:12","v":32.92},{"c":"O","k":"S","t":"20:31:01","v":32.85},{"c":"O","k":"S","t":"20:31:50","v":32.73},{"c":"O","k":"S","t":"20:32:32","v":32.58},{"c":"O","k":"S","t":"20:33:20","v":32.42},{"c":"O","k":"S","t":"20:34:16","v":32.23},{"c":"O","k":"S","t":"20:35:19","v":32.08},{"c":"O","k":"S","t":"20:36:00","v":31.96},{"c":"O","k":"S","t":"20:36:49","v":31.85},{"c":"O","k":"S","t":"20:37:45","v":31.69},{"c":"O","k":"S","t":"20:38:48","v":31.58},{"c":"O","k":"S","t":"20:39:43","v":31.46},{"c":"O","k":"S","t":"20:40:39","v":31.38},{"c":"O","k":"S","t":"20:41:42","v":31.31},{"c":"O","k":"S","t":"20:42:37","v":31.31},{"c":"O","k":"S","t":"20:43:33","v":31.35},{"c":"O","k":"S","t":"20:44:36","v":31.35},{"c":"O","k":"S","t":"20:45:31","v":31.31},{"c":"O","k":"S","t":"20:46:27","v":31.27},{"c":"O","k":"S","t":"20:47:30","v":31.19},{"c":"O","k":"S","t":"20:48:18","v":31.12},
{"c":"G","k":"S","t":"20:03:46","v":34.08},{"c":"G","k":"S","t":"20:04:41","v":34.15},{"c":"G","k":"S","t":"20:05:30","v":34.0},{"c":"G","k":"S","t":"20:06:40","v":33.77},{"c":"G","k":"S","t":"20:07:49","v":33.5},{"c":"G","k":"S","t":"20:08:59","v":33.31},{"c":"G","k":"S","t":"20:10:08","v":33.12},{"c":"G","k":"S","t":"20:11:18","v":32.81},{"c":"G","k":"S","t":"20:12:28","v":32.65},{"c":"G","k":"S","t":"20:13:37","v":32.65},{"c":"G","k":"S","t":"20:14:47","v":32.62},{"c":"G","k":"S","t":"20:15:36","v":32.62},{"c":"G","k":"S","t":"20:16:10","v":32.38},{"c":"G","k":"S","t":"20:16:45","v":32.38},{"c":"G","k":"S","t":"20:17:27","v":32.54},{"c":"G","k":"S","t":"20:18:36","v":32.62},{"c":"G","k":"S","t":"20:19:46","v":32.65},{"c":"G","k":"S","t":"20:20:56","v":32.62},{"c":"G","k":"S","t":"20:22:05","v":32.62},{"c":"G","k":"S","t":"20:23:15","v":32.54},{"c":"G","k":"S","t":"20:24:52","v":32.42},{"c":"G","k":"S","t":"20:26:23","v":32.27},{"c":"G","k":"S","t":"20:27:32","v":32.35},{"c":"G","k":"S","t":"20:29:03","v":32.38},{"c":"G","k":"S","t":"20:30:40","v":32.35},{"c":"G","k":"S","t":"20:31:50","v":32.15},{"c":"G","k":"S","t":"20:32:59","v":31.96},{"c":"G","k":"S","t":"20:34:30","v":31.77},{"c":"G","k":"S","t":"20:36:00","v":31.58},{"c":"G","k":"S","t":"20:37:38","v":31.38},{"c":"G","k":"S","t":"20:39:08","v":31.19},{"c":"G","k":"S","t":"20:40:39","v":31.0},{"c":"G","k":"S","t":"20:41:49","v":30.88},{"c":"G","k":"S","t":"20:42:37","v":30.85},{"c":"G","k":"S","t":"20:43:33","v":30.85},{"c":"G","k":"S","t":"20:44:36","v":30.81},{"c":"G","k":"S","t":"20:46:06","v":30.69},{"c":"G","k":"S","t":"20:47:16","v":30.58},{"c":"G","k":"S","t":"20:48:18","v":30.46},
{"c":"P","k":"S","t":"20:03:46","v":33.62},{"c":"P","k":"S","t":"20:04:20","v":33.58},{"c":"P","k":"S","t":"20:05:30","v":33.38},{"c":"P","k":"S","t":"20:06:19","v":33.19},{"c":"P","k":"S","t":"20:07:00","v":32.85},{"c":"P","k":"S","t":"20:07:35","v":32.46},{"c":"P","k":"S","t":"20:08:10","v":32.46},{"c":"P","k":"S","t":"20:08:59","v":32.38},{"c":"P","k":"S","t":"20:10:08","v":32.15},{"c":"P","k":"S","t":"20:11:18","v":31.88},{"c":"P","k":"S","t":"20:12:28","v":31.88},{"c":"P","k":"S","t":"20:13:37","v":31.96},{"c":"P","k":"S","t":"20:14:26","v":31.88},{"c":"P","k":"S","t":"20:15:08","v":31.85},{"c":"P","k":"S","t":"20:15:56","v":31.96},{"c":"P","k":"S","t":"20:16:31","v":32.35},{"c":"P","k":"S","t":"20:17:06","v":32.46},{"c":"P","k":"S","t":"20:17:55","v":32.62},{"c":"P","k":"S","t":"20:19:04","v":32.62},{"c":"P","k":"S","t":"20:20:14","v":32.62},{"c":"P","k":"S","t":"20:21:24","v":32.46},{"c":"P","k":"S","t":"20:22:33","v":32.35},{"c":"P","k":"S","t":"20:23:43","v":32.27},{"c":"P","k":"S","t":"20:25:13","v":32.15},{"c":"P","k":"S","t":"20:26:23","v":32.12},{"c":"P","k":"S","t":"20:27:32","v":32.27},{"c":"P","k":"S","t":"20:29:03","v":32.31},{"c":"P","k":"S","t":"20:30:40","v":32.27},{"c":"P","k":"S","t":"20:31:50","v":32.04},{"c":"P","k":"S","t":"20:32:59","v":31.77},{"c":"P","k":"S","t":"20:34:30","v":31.58},{"c":"P","k":"S","t":"20:36:00","v":31.35},{"c":"P","k":"S","t":"20:37:10","v":31.27},{"c":"P","k":"S","t":"20:38:20","v":31.12},{"c":"P","k":"S","t":"20:39:57","v":31.0},{"c":"P","k":"S","t":"20:41:28","v":30.88},{"c":"P","k":"S","t":"20:42:16","v":30.73},{"c":"P","k":"S","t":"20:42:58","v":30.85},{"c":"P","k":"S","t":"20:44:36","v":30.77},{"c":"P","k":"S","t":"20:46:06","v":30.65},{"c":"P","k":"S","t":"20:47:16","v":30.5},{"c":"P","k":"S","t":"20:48:18","v":30.31},
{"c":"B","k":"S","t":"20:03:46","v":31.65},{"c":"B","k":"S","t":"20:05:09","v":31.46},{"c":"B","k":"S","t":"20:06:19","v":31.19},{"c":"B","k":"S","t":"20:07:28","v":30.88},{"c":"B","k":"S","t":"20:08:38","v":30.54},{"c":"B","k":"S","t":"20:09:48","v":30.31},{"c":"B","k":"S","t":"20:10:57","v":30.04},{"c":"B","k":"S","t":"20:12:07","v":29.85},{"c":"B","k":"S","t":"20:13:16","v":29.73},{"c":"B","k":"S","t":"20:14:26","v":29.65},{"c":"B","k":"S","t":"20:15:08","v":29.65},{"c":"B","k":"S","t":"20:15:56","v":29.85},{"c":"B","k":"S","t":"20:16:45","v":30.15},{"c":"B","k":"S","t":"20:17:27","v":30.5},{"c":"B","k":"S","t":"20:18:36","v":30.81},{"c":"B","k":"S","t":"20:19:46","v":30.92},{"c":"B","k":"S","t":"20:20:56","v":31.08},{"c":"B","k":"S","t":"20:22:05","v":31.08},{"c":"B","k":"S","t":"20:23:15","v":31.08},{"c":"B","k":"S","t":"20:24:52","v":31.04},{"c":"B","k":"S","t":"20:26:23","v":31.0},{"c":"B","k":"S","t":"20:27:32","v":31.0},{"c":"B","k":"S","t":"20:28:42","v":31.15},{"c":"B","k":"S","t":"20:29:52","v":31.15},{"c":"B","k":"S","t":"20:31:01","v":31.15},{"c":"B","k":"S","t":"20:32:11","v":31.08},{"c":"B","k":"S","t":"20:33:20","v":30.96},{"c":"B","k":"S","t":"20:34:30","v":30.88},{"c":"B","k":"S","t":"20:35:40","v":30.73},{"c":"B","k":"S","t":"20:36:49","v":30.62},{"c":"B","k":"S","t":"20:37:59","v":30.5},{"c":"B","k":"S","t":"20:39:08","v":30.38},{"c":"B","k":"S","t":"20:40:18","v":30.31},{"c":"B","k":"S","t":"20:41:28","v":30.19},{"c":"B","k":"S","t":"20:42:37","v":30.15},{"c":"B","k":"S","t":"20:43:47","v":30.12},{"c":"B","k":"S","t":"20:44:56","v":30.12},{"c":"B","k":"S","t":"20:46:06","v":30.08},{"c":"B","k":"S","t":"20:47:16","v":30.04},{"c":"B","k":"S","t":"20:48:18","v":29.96}
]},
"transform": [{"calculate": "toDate('2022-12-14T' + datum.t)", "as": "ts"}],
"mark": {"type": "line", "strokeWidth": 1.9, "clip": true},
"encoding": {
"x": {"field": "ts", "type": "temporal",
 "scale": {"domain": [{"year": 2022, "month": 12, "date": 14, "hours": 20, "minutes": 3, "seconds": 34}, {"year": 2022, "month": 12, "date": 14, "hours": 20, "minutes": 48, "seconds": 25}]},
 "axis": {"tickCount": 10, "format": "%H\u2009:\u2009%M",
  "grid": false, "domainColor": "#000", "tickColor": "#000", "tickSize": 4.5, "labelPadding": 3, "labelFontSize": 13, "labelColor": "#222", "labelFont": "Liberation Serif",
  "title": "2022-12-14\u3000\u3000\u3000\u3000\u3000\u3000时间", "titleFont": "Liberation Serif, Noto Sans CJK SC", "titleFontSize": 13, "titleFontWeight": "normal", "titleColor": "#222",
  "titleAnchor": "start", "titleAlign": "left", "titleX": 40, "titlePadding": 7}},
"y": {"field": "v", "type": "quantitative",
 "scale": {"domain": [28.2, 41.2], "nice": false, "zero": false},
 "axis": {"values": [30, 32, 34, 36, 38, 40], "grid": false, "domainColor": "#000", "tickColor": "#000", "tickSize": 4.5, "labelPadding": 3, "labelFontSize": 13, "labelColor": "#222", "labelFont": "Liberation Serif",
  "title": "温度(℃)", "titleFont": "Noto Sans CJK SC", "titleFontSize": 13, "titleFontWeight": "normal", "titleColor": "#222", "titlePadding": 9}},
"color": {"field": "c", "type": "nominal", "scale": {"domain": ["P", "K", "G", "O", "Y", "B"], "range": ["#800080", "#ff8ad0", "#00f000", "#f0c020", "#888888", "#000000"]}, "legend": null},
"strokeDash": {"field": "k", "type": "nominal", "scale": {"domain": ["I", "S"], "range": [[1, 0], [6, 3]]}, "legend": null}
}
},
{
"data": {"values": [{"t": "20:29:45", "v": 28.96, "label": "—：红外温度\u3000- -：体表温度"}]},
"transform": [{"calculate": "toDate('2022-12-14T' + datum.t)", "as": "ts"}],
"mark": {"type": "text", "font": "Noto Sans CJK SC", "fontSize": 13, "align": "center", "baseline": "middle", "color": "#222"},
"encoding": {"x": {"field": "ts", "type": "temporal"}, "y": {"field": "v", "type": "quantitative"}, "text": {"field": "label"}}
}
]
}
